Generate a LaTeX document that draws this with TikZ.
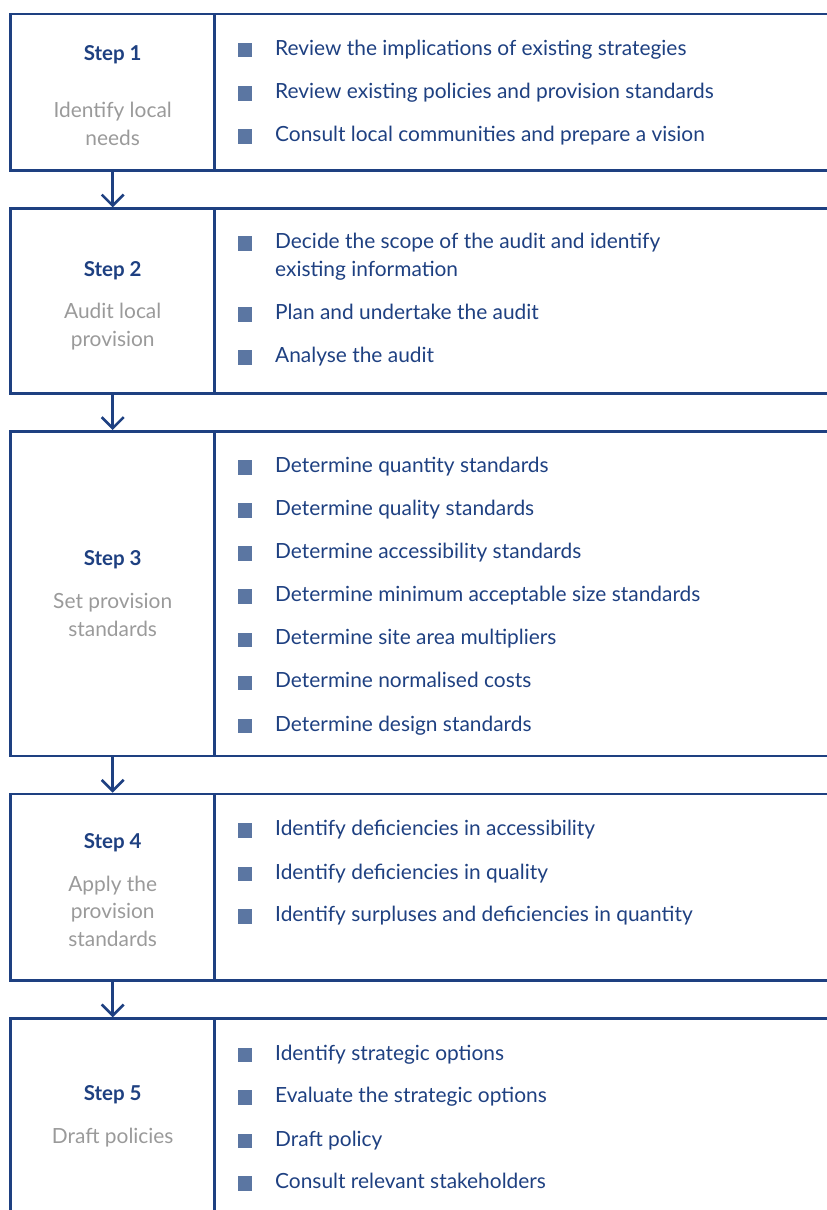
\documentclass[tikz,border=0pt]{standalone}
\usepackage{fontspec}
\setmainfont{Lato}
\usepackage{xcolor}
\usetikzlibrary{arrows.meta, positioning}
\definecolor{stepblue}{HTML}{1E4081}
\definecolor{bulletblue}{HTML}{5B76A2}
\definecolor{descgray}{HTML}{9A9A9A}

\begin{document}
\begin{tikzpicture}[x=1pt, y=-1pt,
node distance = 38pt,
cell/.style  = {draw=stepblue, line width=2.7pt, minimum width=204pt,
                inner sep=0pt, outer sep=0pt},
rule/.style  = {draw=stepblue, line width=2.7pt},
flow/.style  = {draw=stepblue, line width=2.6pt, shorten >=1.3pt,
                -{Straight Barb[length=11pt, width=22pt]}},
title/.style = {anchor=base, inner sep=0pt, text=stepblue,
                font=\fontsize{20.5}{24}\selectfont\bfseries},
desc/.style  = {anchor=base, inner sep=0pt, align=center, text=descgray,
                font=\fontsize{20.9}{27.7}\selectfont},
sq/.style    = {fill=bulletblue, minimum size=14.6pt, inner sep=0pt},
item/.style  = {anchor=base west, inner sep=0pt, align=left, text=stepblue,
                font=\fontsize{20.9}{28.4}\selectfont},
                        ]
\useasboundingbox (0,0) rectangle (827,1210);
\coordinate (edge) at (827,0);
% step cells
\node (s1) [cell, minimum height=156.7pt] at (112.7,92.35) {};
\node (s2) [cell, minimum height=184.6pt, below=of s1] {};
\node (s3) [cell, minimum height=324.7pt, below=of s2] {};
\node (s4) [cell, minimum height=186.6pt, below=of s3] {};
\node (s5) [cell, minimum height=230pt,   below=of s4] {};
% right halves
\draw[rule] (s1.north east) -- (s1.north east -| edge)
            (s1.south east) -- (s1.south east -| edge)
            (s2.north east) -- (s2.north east -| edge)
            (s2.south east) -- (s2.south east -| edge)
            (s3.north east) -- (s3.north east -| edge)
            (s3.south east) -- (s3.south east -| edge)
            (s4.north east) -- (s4.north east -| edge)
            (s4.south east) -- (s4.south east -| edge)
            (s5.north east) -- (s5.north east -| edge);
% arrows
\draw[flow] (s1.south) -- (s2.north);
\draw[flow] (s2.south) -- (s3.north);
\draw[flow] (s3.south) -- (s4.north);
\draw[flow] (s4.south) -- (s5.north);
% titles (desc anchored on last line)
\node (t1) [title] at (112.7,60)   {Step 1};
\node (d1) [desc]  at (112.7,145)  {Identify local\\needs};
\node (t2) [title] at (112.7,276)  {Step 2};
\node (d2) [desc]  at (112.7,346.5) {Audit local\\provision};
\node (t3) [title] at (112.7,565)  {Step 3};
\node (d3) [desc]  at (112.7,636)  {Set provision\\standards};
\node (t4) [title] at (112.7,848.3) {Step 4};
\node (d4) [desc]  at (112.7,946.5) {Apply the\\provision\\standards};
\node (t5) [title] at (112.7,1100) {Step 5};
\node (d5) [desc]  at (112.7,1143.3) {Draft policies};
% bullet points
\foreach \b/\t [count=\k] in {55/Review the implications of existing strategies,
    98.3/Review existing policies and provision standards,
    141.7/Consult local communities and prepare a vision,
    319.3/Plan and undertake the audit,
    362.7/Analyse the audit,
    472.3/Determine quantity standards,
    515.5/Determine quality standards,
    558.6/Determine accessibility standards,
    601.7/Determine minimum acceptable size standards,
    644.8/Determine site area multipliers,
    687.9/Determine normalised costs,
    731/Determine design standards,
    835.7/Identify deficiencies in accessibility,
    879/Identify deficiencies in quality,
    921.7/Identify surpluses and deficiencies in quantity,
    1060/Identify strategic options,
    1102.7/Evaluate the strategic options,
    1146/Draft policy,
    1188.3/Consult relevant stakeholders}
{
  \node (q\k) [sq] at (245,\b-5) {};
  \node (p\k) [item] at (275,\b) {\t};
}
% the one two-line point
\node (q0) [sq] at (245,243.3) {};
\node (p0) [item] at (275,276.7) {Decide the scope of the audit and identify\\existing information};
\end{tikzpicture}
\end{document}
